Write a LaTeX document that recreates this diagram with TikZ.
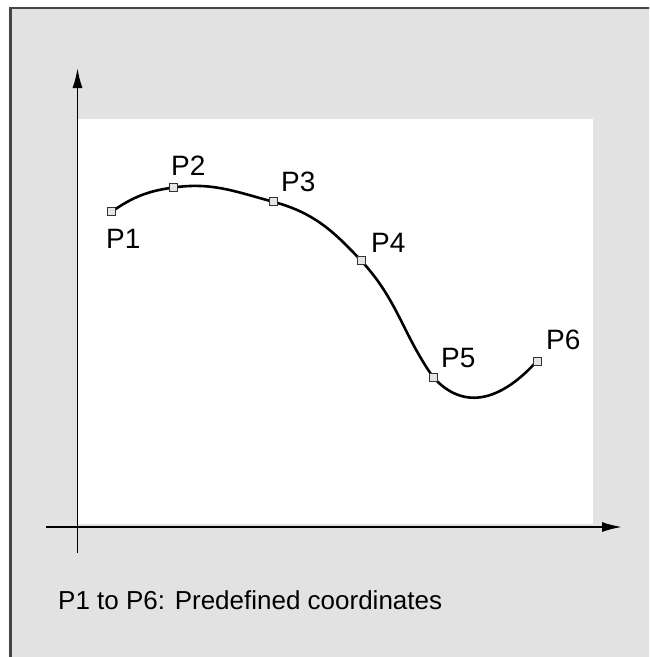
\documentclass[tikz,border=0pt]{standalone}
\usepackage{fontspec}
\setmainfont{Liberation Sans}
\usetikzlibrary{arrows.meta}
\definecolor{bggray}{HTML}{E2E2E2}
\definecolor{framegray}{HTML}{454545}
\begin{document}
\begin{tikzpicture}[x=1pt,y=1pt,
  lbl/.style={anchor=base west, inner sep=0pt, font=\fontsize{28}{28}\selectfont},
  notetext/.style={anchor=base west, inner sep=0pt, font=\fontsize{26}{26}\selectfont},
  mk/.style={draw=black!80, fill=black!10, line width=0.9pt, minimum size=8pt, inner sep=0pt, shape=rectangle},
  axis/.style={line width=1.9pt, -{Latex[length=20pt,width=10pt]}},
  curvestyle/.style={line width=2.6pt}
]
\useasboundingbox (0,0) rectangle (649,-657);
\clip (0,0) rectangle (649,-657);
\fill[white] (0,0) rectangle (649,-657);
\draw[line width=2.5pt, draw=framegray, fill=bggray] (10.5,-8) rectangle (700,-700);
\fill[white] (78,-119) rectangle (593,-524);
% axes
\coordinate (yb) at (77.5,-553);
\coordinate (yt) at (77.5,-68);
\coordinate (xl) at (46,-527);
\coordinate (xr) at (622,-527);
\draw[axis] (yb) -- (yt);
\draw[axis] (xl) -- (xr);
% points
\coordinate (p1) at (111.7,-211.7);
\coordinate (p2) at (173.3,-187.5);
\coordinate (p3) at (273,-201.7);
\coordinate (p4) at (361,-260.5);
\coordinate (p5) at (433,-377);
\coordinate (p6) at (537,-361);
\draw[curvestyle] (p1) to[out=35,in=188] (p2) to[out=8,in=165] (p3)
  to[out=-15,in=133] (p4) to[out=-47,in=125] (p5)
  to[out=-48,in=228,looseness=1.2] (p6);
\node[mk] (m1) at (p1) {};
\node[mk] (m2) at (p2) {};
\node[mk] (m3) at (p3) {};
\node[mk] (m4) at (p4) {};
\node[mk] (m5) at (p5) {};
\node[mk] (m6) at (p6) {};
% labels
\node[lbl] (l1) at (106,-248) {P1};
\node[lbl] (l2) at (171,-175) {P2};
\node[lbl] (l3) at (281,-191) {P3};
\node[lbl] (l4) at (371,-252) {P4};
\node[lbl] (l5) at (441,-367) {P5};
\node[lbl] (l6) at (546,-349) {P6};
\node[notetext] (note) at (58,-609) {P1 to P6: Predefined coordinates};
\end{tikzpicture}
\end{document}
